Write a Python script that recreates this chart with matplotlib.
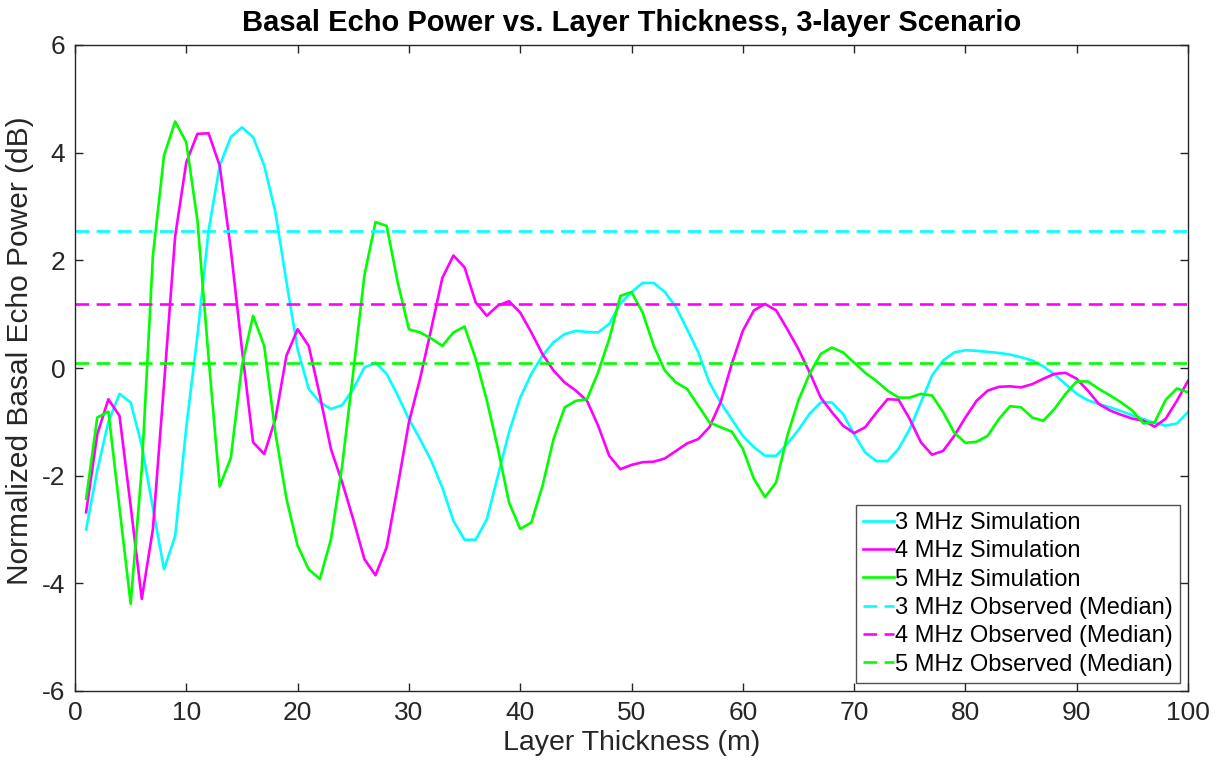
import matplotlib
matplotlib.use("Agg")
import matplotlib.pyplot as plt
import numpy as np

plt.rcParams['font.family'] = ['Liberation Sans', 'DejaVu Sans']
plt.rcParams['axes.unicode_minus'] = False

thickness = list(range(1, 101))

sim_3mhz = [
    -3.0, -1.9, -1.0, -0.48, -0.64, -1.44, -2.6, -3.74, -3.12, -1.1,
    0.6, 2.55, 3.76, 4.29, 4.47, 4.29, 3.76, 2.9, 1.6, 0.35,
    -0.39, -0.64, -0.76, -0.69, -0.39, 0.01, 0.1, -0.11, -0.51, -0.95,
    -1.32, -1.72, -2.22, -2.84, -3.19, -3.19, -2.81, -2.0, -1.19, -0.55,
    -0.11, 0.23, 0.48, 0.63, 0.69, 0.67, 0.66, 0.82, 1.2, 1.41,
    1.58, 1.58, 1.41, 1.13, 0.72, 0.29, -0.27, -0.64, -0.95, -1.26,
    -1.47, -1.63, -1.63, -1.41, -1.15, -0.85, -0.64, -0.64, -0.85, -1.23,
    -1.57, -1.73, -1.73, -1.5, -1.13, -0.64, -0.14, 0.14, 0.29, 0.33,
    0.32, 0.3, 0.28, 0.25, 0.2, 0.14, 0.03, -0.12, -0.3, -0.48,
    -0.6, -0.67, -0.73, -0.8, -0.88, -0.95, -1.02, -1.07, -1.03, -0.82,
]

sim_4mhz = [
    -2.68, -1.23, -0.58, -0.89, -2.56, -4.29, -2.99, -0.3, 2.45, 3.82,
    4.35, 4.36, 3.76, 2.2, 0.35, -1.38, -1.6, -0.95, 0.23, 0.72,
    0.41, -0.51, -1.51, -2.12, -2.81, -3.55, -3.85, -3.33, -2.19, -1.01,
    -0.2, 0.72, 1.67, 2.09, 1.87, 1.22, 0.97, 1.16, 1.24, 1.03,
    0.66, 0.26, -0.05, -0.27, -0.42, -0.61, -1.07, -1.63, -1.88, -1.8,
    -1.75, -1.74, -1.68, -1.54, -1.4, -1.32, -1.1, -0.64, 0.07, 0.69,
    1.07, 1.19, 1.07, 0.72, 0.35, -0.08, -0.55, -0.82, -1.07, -1.21,
    -1.1, -0.83, -0.58, -0.59, -0.95, -1.38, -1.61, -1.54, -1.26, -0.92,
    -0.61, -0.42, -0.35, -0.34, -0.36, -0.3, -0.2, -0.11, -0.09, -0.2,
    -0.42, -0.67, -0.79, -0.87, -0.94, -0.98, -1.09, -0.94, -0.61, -0.24,
]

sim_5mhz = [
    -2.43, -0.92, -0.81, -2.6, -4.38, -1.87, 2.09, 3.95, 4.58, 4.19,
    2.74, 0.2, -2.2, -1.67, 0.05, 0.97, 0.41, -1.2, -2.43, -3.3,
    -3.74, -3.92, -3.18, -1.82, -0.08, 1.72, 2.71, 2.64, 1.59, 0.72,
    0.66, 0.55, 0.41, 0.66, 0.77, 0.17, -0.6, -1.5, -2.5, -2.99,
    -2.87, -2.19, -1.32, -0.73, -0.61, -0.58, -0.08, 0.54, 1.34, 1.41,
    1.03, 0.41, -0.05, -0.27, -0.39, -0.7, -1.01, -1.1, -1.18, -1.5,
    -2.06, -2.4, -2.12, -1.26, -0.6, -0.11, 0.26, 0.38, 0.29, 0.1,
    -0.09, -0.24, -0.42, -0.55, -0.55, -0.48, -0.51, -0.82, -1.2, -1.39,
    -1.37, -1.26, -0.95, -0.71, -0.73, -0.92, -0.98, -0.76, -0.48, -0.25,
    -0.25, -0.39, -0.51, -0.64, -0.79, -1.03, -1.01, -0.59, -0.38, -0.45,
]

obs_median = [2.54, 1.19, 0.087]

sim_labels = ['3 MHz Simulation', '4 MHz Simulation', '5 MHz Simulation']
obs_labels = ['3 MHz Observed (Median)', '4 MHz Observed (Median)',
              '5 MHz Observed (Median)']
colors = ['#00FFFF', '#FF00FF', '#00FF00']

fig = plt.figure(figsize=(12.24, 7.68), dpi=100)
ax = fig.add_axes([75 / 1224, 1 - 691 / 768, (1188 - 75) / 1224, (691 - 45) / 768])

for series, lab, c in zip([sim_3mhz, sim_4mhz, sim_5mhz], sim_labels, colors):
    ax.plot(thickness, series, color=c, lw=1.9, label=lab)

for val, lab, c in zip(obs_median, obs_labels, colors):
    ax.plot([0, 100], [val, val], color=c, lw=1.9, dashes=(5.2, 2.8), label=lab)

ax.set_xlim(0, 100)
ax.set_ylim(-6, 6)
ax.set_xticks(np.arange(0, 101, 10))
ax.set_yticks(np.arange(-6, 7, 2))

axis_col = '#262626'
for s in ax.spines.values():
    s.set_color(axis_col)
    s.set_linewidth(1.0)
ax.tick_params(direction='in', length=6, width=1.0, color=axis_col,
               labelsize=19, labelcolor='#262626', top=True, right=True, pad=7)

ax.set_xlabel('Layer Thickness (m)', fontsize=20.5, color='#262626', labelpad=4)
ax.set_ylabel('Normalized Basal Echo Power (dB)', fontsize=21.5, color='#262626')
ax.yaxis.set_label_coords(-0.037, (691 - 351) / 646)
ax.set_title('Basal Echo Power vs. Layer Thickness, 3-layer Scenario',
             fontsize=21, fontweight='bold', pad=10)

leg = ax.legend(loc='lower right', fontsize=17, frameon=True, fancybox=False,
                edgecolor='#262626', handlelength=1.3, handletextpad=0.05,
                borderpad=0.3, labelspacing=0.27, borderaxespad=0.35)
leg.get_frame().set_linewidth(1.0)

fig.savefig('out.png', dpi=100)
